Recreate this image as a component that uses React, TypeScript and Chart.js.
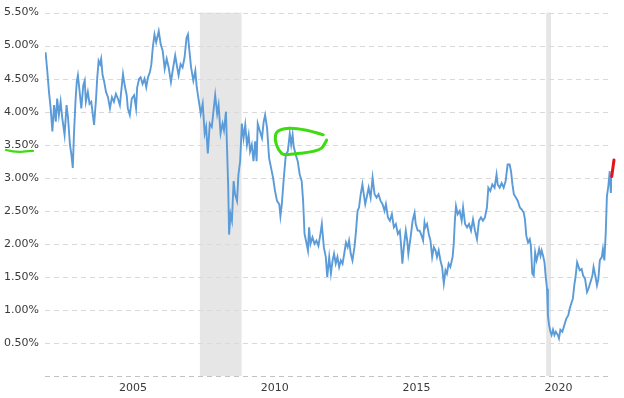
import { useEffect, useRef } from 'react';
import { Chart, registerables } from 'chart.js';

Chart.register(...registerables);

// Weekly yield (%); x in decimal years
const years = [
  2002.42, 2002.48, 2002.54, 2002.60, 2002.66, 2002.72, 2002.78, 2002.83, 2002.89, 2002.95,
  2003.01, 2003.09, 2003.16, 2003.21, 2003.28, 2003.33, 2003.38, 2003.42, 2003.48, 2003.52,
  2003.56, 2003.61, 2003.68, 2003.75, 2003.80, 2003.84, 2003.91, 2003.97, 2004.03, 2004.13,
  2004.20, 2004.24, 2004.29, 2004.34, 2004.38, 2004.43, 2004.48, 2004.55, 2004.62, 2004.69,
  2004.76, 2004.83, 2004.90, 2004.97, 2005.04, 2005.09, 2005.15, 2005.21, 2005.28, 2005.32,
  2005.39, 2005.46, 2005.54, 2005.61, 2005.65, 2005.72,
  2005.77, 2005.84, 2005.91, 2005.97, 2006.03, 2006.10, 2006.15, 2006.20, 2006.26, 2006.32,
  2006.41, 2006.48, 2006.55, 2006.62, 2006.69, 2006.76, 2006.84, 2006.90, 2006.99, 2007.06,
  2007.11, 2007.18, 2007.25, 2007.32, 2007.39, 2007.44, 2007.48, 2007.55, 2007.63, 2007.70,
  2007.75, 2007.82, 2007.89, 2007.96, 2008.03, 2008.08, 2008.14, 2008.21, 2008.28, 2008.33,
  2008.40, 2008.47, 2008.52, 2008.59, 2008.66, 2008.71, 2008.78, 2008.82, 2008.86, 2008.89,
  2008.94, 2008.99, 2009.05, 2009.10, 2009.17, 2009.22, 2009.28,
  2009.34, 2009.40, 2009.46, 2009.52, 2009.58, 2009.63, 2009.69, 2009.75, 2009.81, 2009.86,
  2009.90, 2009.98, 2010.05, 2010.11, 2010.16, 2010.23, 2010.30, 2010.37, 2010.44, 2010.51,
  2010.58, 2010.66, 2010.70, 2010.75, 2010.82, 2010.89, 2010.96, 2011.03, 2011.08, 2011.13,
  2011.17, 2011.24, 2011.31, 2011.38, 2011.45, 2011.50, 2011.55, 2011.60, 2011.67, 2011.71,
  2011.76, 2011.83, 2011.90, 2011.97, 2012.04, 2012.11, 2012.16, 2012.23, 2012.30, 2012.35,
  2012.42, 2012.48, 2012.54, 2012.59, 2012.65, 2012.71, 2012.77, 2012.83, 2012.89, 2012.95,
  2013.01, 2013.07, 2013.12, 2013.18, 2013.24, 2013.31, 2013.36, 2013.42, 2013.47, 2013.53,
  2013.59, 2013.64, 2013.69, 2013.74, 2013.81, 2013.88, 2013.95, 2014.02, 2014.09, 2014.16,
  2014.23, 2014.30, 2014.37, 2014.42, 2014.49, 2014.56, 2014.63, 2014.70, 2014.77, 2014.84,
  2014.91, 2014.95, 2015.00, 2015.05, 2015.12, 2015.17, 2015.21, 2015.29, 2015.36, 2015.43,
  2015.47, 2015.54, 2015.61, 2015.68, 2015.73, 2015.78,
  2015.81, 2015.87, 2015.93, 2015.99, 2016.05, 2016.11, 2016.17, 2016.22, 2016.28, 2016.34,
  2016.40, 2016.46, 2016.52, 2016.57, 2016.63, 2016.69, 2016.77, 2016.81, 2016.85, 2016.89,
  2016.95, 2017.02, 2017.09, 2017.14, 2017.21, 2017.28, 2017.35, 2017.42, 2017.49, 2017.56,
  2017.63, 2017.70, 2017.77, 2017.84, 2017.91, 2017.98, 2018.03, 2018.10, 2018.17, 2018.25,
  2018.32, 2018.36, 2018.43, 2018.50, 2018.57, 2018.64, 2018.71, 2018.78, 2018.83, 2018.88,
  2018.93, 2019.00, 2019.07, 2019.14, 2019.21,
  2019.28, 2019.32, 2019.37, 2019.43, 2019.49, 2019.53, 2019.58, 2019.63, 2019.68, 2019.73,
  2019.77, 2019.82, 2019.87, 2019.91, 2019.96, 2020.01, 2020.05, 2020.10, 2020.13, 2020.17,
  2020.22, 2020.26, 2020.31, 2020.36, 2020.41, 2020.48, 2020.52, 2020.57, 2020.64, 2020.71,
  2020.78, 2020.85, 2020.90, 2020.97, 2021.01, 2021.06, 2021.11, 2021.16, 2021.20, 2021.25,
  2021.32, 2021.37, 2021.44, 2021.51, 2021.56, 2021.63, 2021.70, 2021.74, 2021.81, 2021.86,
  2021.91, 2021.96, 2022.03, 2022.07, 2022.12, 2022.17, 2022.21, 2022.26, 2022.31, 2022.35,
  2022.38,
];

const yields = [
  4.90, 4.62, 4.30, 4.05, 3.70, 4.10, 3.85, 4.20, 3.95, 4.15,
  3.90, 3.65, 4.10, 3.92, 3.50, 3.35, 3.15, 3.65, 4.20, 4.45,
  4.55, 4.35, 4.05, 4.40, 4.47, 4.15, 4.30, 4.12, 4.15, 3.80,
  4.20, 4.50, 4.77, 4.72, 4.80, 4.55, 4.47, 4.30, 4.22, 4.05,
  4.22, 4.15, 4.27, 4.20, 4.10, 4.32, 4.57, 4.40, 4.25, 4.05,
  3.95, 4.20, 4.25, 4.05, 4.37, 4.50,
  4.52, 4.42, 4.50, 4.37, 4.52, 4.60, 4.72, 4.97, 5.17, 5.05,
  5.22, 5.02, 4.92, 4.65, 4.80, 4.67, 4.45, 4.62, 4.85, 4.67,
  4.55, 4.72, 4.67, 4.82, 5.12, 5.17, 4.97, 4.67, 4.47, 4.62,
  4.37, 4.17, 3.97, 4.12, 3.67, 3.77, 3.37, 3.82, 3.77, 3.97,
  4.25, 3.97, 4.10, 3.67, 3.82, 3.72, 4.00, 3.42, 2.85, 2.14,
  2.45, 2.35, 2.95, 2.75, 2.65, 3.05, 3.25,
  3.82, 3.60, 3.80, 3.50, 3.65, 3.40, 3.50, 3.25, 3.55, 3.25,
  3.82, 3.70, 3.60, 3.85, 3.95, 3.75, 3.30, 3.15, 3.00, 2.80,
  2.65, 2.60, 2.42, 2.60, 3.00, 3.35, 3.40, 3.67, 3.50, 3.65,
  3.47, 3.35, 3.25, 3.05, 2.95, 2.65, 2.15, 2.05, 1.90, 2.25,
  2.00, 2.10, 2.00, 2.05, 1.97, 2.15, 2.30, 1.95, 1.80, 1.50,
  1.80, 1.55, 1.75, 1.85, 1.70, 1.80, 1.65, 1.75, 1.70, 1.85,
  2.02, 1.95, 2.05, 1.85, 1.75, 1.95, 2.17, 2.50, 2.55, 2.75,
  2.90, 2.75, 2.60, 2.70, 2.85, 2.70, 3.00, 2.75, 2.70, 2.75,
  2.65, 2.60, 2.50, 2.60, 2.40, 2.35, 2.45, 2.25, 2.30, 2.15,
  2.20, 2.00, 1.70, 1.95, 2.20, 2.05, 1.85, 2.10, 2.35, 2.47,
  2.30, 2.20, 2.20, 2.12, 2.05, 2.32,
  2.25, 2.30, 2.15, 2.05, 1.80, 1.95, 1.90, 1.80, 1.90, 1.75,
  1.65, 1.40, 1.60, 1.55, 1.70, 1.65, 1.80, 2.00, 2.35, 2.57,
  2.45, 2.50, 2.35, 2.55, 2.30, 2.25, 2.30, 2.20, 2.37, 2.20,
  2.07, 2.35, 2.40, 2.35, 2.40, 2.55, 2.85, 2.80, 2.90, 2.85,
  3.05, 2.90, 2.85, 2.92, 2.85, 2.95, 3.20, 3.20, 3.10, 2.90,
  2.75, 2.70, 2.65, 2.55, 2.52,
  2.47, 2.37, 2.12, 2.02, 2.07, 1.97, 1.55, 1.52, 1.87, 1.75,
  1.82, 1.92, 1.82, 1.90, 1.82, 1.72, 1.52, 1.32, 0.92, 0.77,
  0.67, 0.62, 0.70, 0.62, 0.67, 0.62, 0.57, 0.70, 0.67, 0.77,
  0.87, 0.92, 1.02, 1.12, 1.17, 1.37, 1.52, 1.72, 1.67, 1.60,
  1.62, 1.52, 1.47, 1.27, 1.32, 1.42, 1.52, 1.65, 1.50, 1.37,
  1.47, 1.75, 1.80, 1.92, 1.75, 2.17, 2.72, 2.87, 3.10, 2.77,
  3.02,
];

// Latest (red) segment
const latestYears = [2022.38, 2022.46];
const latestYields = [3.02, 3.27];

// Recession shading (decimal years)
const recessionStart = [2007.86, 2020.07];
const recessionEnd = [2009.33, 2020.24];

// Hand-drawn green loop around the 2010-2011 peak
const noteYears = [2012.21, 2011.62, 2011.03, 2010.68, 2010.53, 2010.56, 2010.74, 2010.92, 2011.38, 2011.85, 2012.15, 2012.33];
const noteYields = [3.65, 3.72, 3.75, 3.72, 3.65, 3.50, 3.37, 3.35, 3.37, 3.40, 3.45, 3.57];
// Green underline below this y tick label
const markedLevel = 3.5;

// Axis ticks
const tickYears = [2005, 2010, 2015, 2020];
const xMin = 2002.4;
const xMax = 2022.39;
const yMin = 0;
const yMax = 5.5;
const yStep = 0.5;

const FONT = { family: '"DejaVu Sans", Verdana, sans-serif', size: 11 };
const TEXT = '#3a3a3a';
const GREEN = '#3cdc10';

const overlayPlugin = {
  id: 'overlay',
  beforeDraw(chart: any) {
    const { ctx, chartArea, scales } = chart;
    const xs = scales.x;
    const ys = scales.y;
    ctx.save();
    ctx.fillStyle = '#e6e6e6';
    recessionStart.forEach((s, i) => {
      const x0 = xs.getPixelForValue(s);
      const x1 = xs.getPixelForValue(recessionEnd[i]);
      ctx.fillRect(x0, chartArea.top, x1 - x0, chartArea.bottom - chartArea.top);
    });
    // dashed horizontal grid
    ctx.lineWidth = 1;
    ctx.setLineDash([5, 4]);
    ys.ticks.forEach((t: any) => {
      const y = Math.round(ys.getPixelForValue(t.value)) + 0.5;
      ctx.strokeStyle = t.value === 0 ? '#c2c2c2' : '#d9d9d9';
      ctx.beginPath();
      ctx.moveTo(chartArea.left, y);
      ctx.lineTo(chartArea.right, y);
      ctx.stroke();
    });
    ctx.restore();
  },
  afterDraw(chart: any) {
    const { ctx, chartArea, scales } = chart;
    const y = scales.y.getPixelForValue(markedLevel) + 6;
    const l = chartArea.left;
    ctx.save();
    ctx.strokeStyle = GREEN;
    ctx.lineWidth = 2.2;
    ctx.lineCap = 'round';
    ctx.beginPath();
    ctx.moveTo(l - 39, y - 0.8);
    ctx.quadraticCurveTo(l - 30, y + 1.6, l - 22, y + 0.9);
    ctx.quadraticCurveTo(l - 16, y + 0.2, l - 12, y + 0.2);
    ctx.stroke();
    ctx.restore();
  },
};

export default function App() {
  const ref = useRef<HTMLCanvasElement>(null);

  useEffect(() => {
    if (!ref.current) return;
    const chart = new Chart(ref.current, {
      type: 'line',
      data: {
        datasets: [
          {
            data: years.map((x, i) => ({ x, y: yields[i] })),
            borderColor: '#5b9bd8',
            borderWidth: 1.9,
            pointRadius: 0,
            tension: 0,
            order: 3,
          },
          {
            data: latestYears.map((x, i) => ({ x, y: latestYields[i] })),
            borderColor: '#e8101a',
            borderWidth: 3,
            pointRadius: 0,
            borderCapStyle: 'round',
            clip: false,
            order: 2,
          },
          {
            data: noteYears.map((x, i) => ({ x, y: noteYields[i] })),
            borderColor: GREEN,
            borderWidth: 3,
            pointRadius: 0,
            tension: 0.4,
            borderCapStyle: 'round',
            borderJoinStyle: 'round',
            clip: false,
            order: 1,
          },
        ],
      },
      options: {
        animation: false,
        responsive: false,
        maintainAspectRatio: false,
        layout: { padding: { top: 10, right: 12, left: 0, bottom: 0 } },
        plugins: { legend: { display: false }, tooltip: { enabled: false } },
        scales: {
          x: {
            type: 'linear',
            min: xMin,
            max: xMax,
            grid: { display: false, drawTicks: false },
            border: { display: false },
            ticks: {
              font: FONT,
              color: TEXT,
              padding: 6,
              autoSkip: false,
              maxRotation: 0,
              callback: (v: any) => String(Math.round(Number(v) - 0.5)),
            },
            afterBuildTicks: (s: any) => {
              s.ticks = tickYears.map((yr) => ({ value: yr + 0.5 }));
            },
            afterFit: (s: any) => {
              s.height = 22;
            },
          },
          y: {
            min: yMin,
            max: yMax,
            ticks: {
              stepSize: yStep,
              padding: 6,
              font: FONT,
              color: TEXT,
              callback: (v: any) => (Number(v) === 0 ? '' : Number(v).toFixed(2) + '%'),
            },
            grid: { display: false, drawTicks: false },
            border: { display: false },
            afterFit: (s: any) => {
              s.width = 45;
            },
          },
        },
      },
      plugins: [overlayPlugin],
    } as any);
    return () => chart.destroy();
  }, []);

  return (
    <div style={{ position: 'fixed', left: 0, top: 0, width: 624, height: 398, background: '#fff' }}>
      <canvas ref={ref} width={624} height={398} style={{ display: 'block' }} />
    </div>
  );
}
